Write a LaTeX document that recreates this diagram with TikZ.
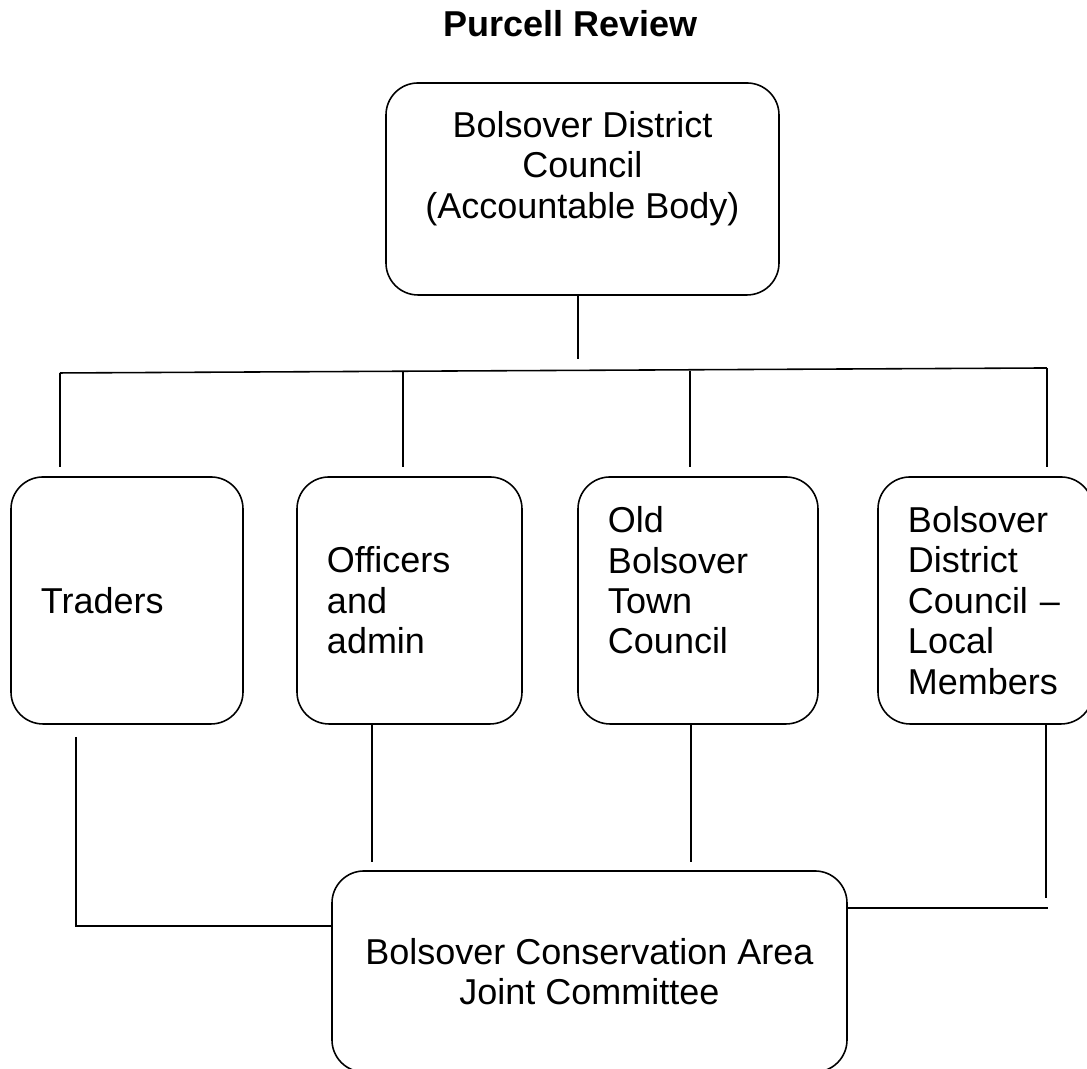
\documentclass[tikz,border=0pt]{standalone}
\usepackage{fontspec}
\setmainfont{Liberation Sans}
\usetikzlibrary{positioning}

\begin{document}
\begin{tikzpicture}[
    BX/.style={rectangle, draw=black, rounded corners=0.32cm, line width=0.45pt,
      font=\fontsize{10.24}{11.5}\selectfont, inner sep=0pt},
    TB/.style={BX, align=center, minimum width=3.93cm, minimum height=2.12cm},
    SB/.style={BX, align=left, inner xsep=0.30cm, minimum height=2.47cm},
    JB/.style={BX, align=center, minimum width=5.15cm, minimum height=2.01cm},
    ln/.style={line width=0.45pt, color=black}
  ]
    \useasboundingbox (0,0) rectangle (10.87,10.69);

    %% Titel
    \node[font=\fontsize{10.24}{11.5}\selectfont\bfseries, anchor=base] (title)
      at (5.705,10.32) {Purcell Review};

    %% Bolsover District Council (oben)
    \node[TB] (bdc) at (5.825,8.80)
      {Bolsover District\\Council\\(Accountable Body)\\[2.3pt]\mbox{}};

    %% vier Partner (mitte)
    \node[SB, text width=1.72cm] (trad) at (1.27,4.685) {Traders};
    \node[SB, text width=1.65cm] (offi) at (4.095,4.685) {Officers\\and\\admin};
    \node[SB, text width=1.80cm] (obtc) at (6.98,4.685)
      {Old\\Bolsover\\Town\\Council\\\mbox{}};
    \node[SB, text width=1.55cm] (bdcm) at (9.855,4.685)
      {Bolsover\\District\\Council –\\Local\\Members};

    %% Joint Committee (unten)
    \node[JB] (bcajc) at (5.895,0.975)
      {Bolsover Conservation Area\\Joint Committee};

    %% Verteiler
    \coordinate (dTr) at (0.60,6.96);
    \coordinate (dOf) at (4.03,6.97);
    \coordinate (dOb) at (6.90,6.98);
    \coordinate (dLm) at (10.47,7.01);

    %% Linien oben
    \draw[ln] ([xshift=-0.045cm]bdc.south) -- ++(0,-0.63);
    \draw[ln] (dTr) -- (dLm);
    \draw[ln, shorten >=0.09cm] (dTr) -- (dTr |- trad.north);
    \draw[ln, shorten >=0.09cm] (dOf) -- (dOf |- offi.north);
    \draw[ln, shorten >=0.09cm] (dOb) -- (dOb |- obtc.north);
    \draw[ln, shorten >=0.09cm] (dLm) -- (dLm |- bdcm.north);

    %% Linien unten
    \draw[ln, shorten <=0.12cm] ([xshift=-0.51cm]trad.south) |- ([yshift=0.455cm]bcajc.west);
    \draw[ln] ([xshift=-0.375cm]offi.south) -- ++(0,-1.37);
    \draw[ln] ([xshift=-0.07cm]obtc.south) -- ++(0,-1.37);
    \draw[ln] ([xshift=0.605cm]bdcm.south) -- ++(0,-1.73);
    \draw[ln] ([yshift=0.635cm]bcajc.east) -- ++(2.0,0);
  \end{tikzpicture}
\end{document}
